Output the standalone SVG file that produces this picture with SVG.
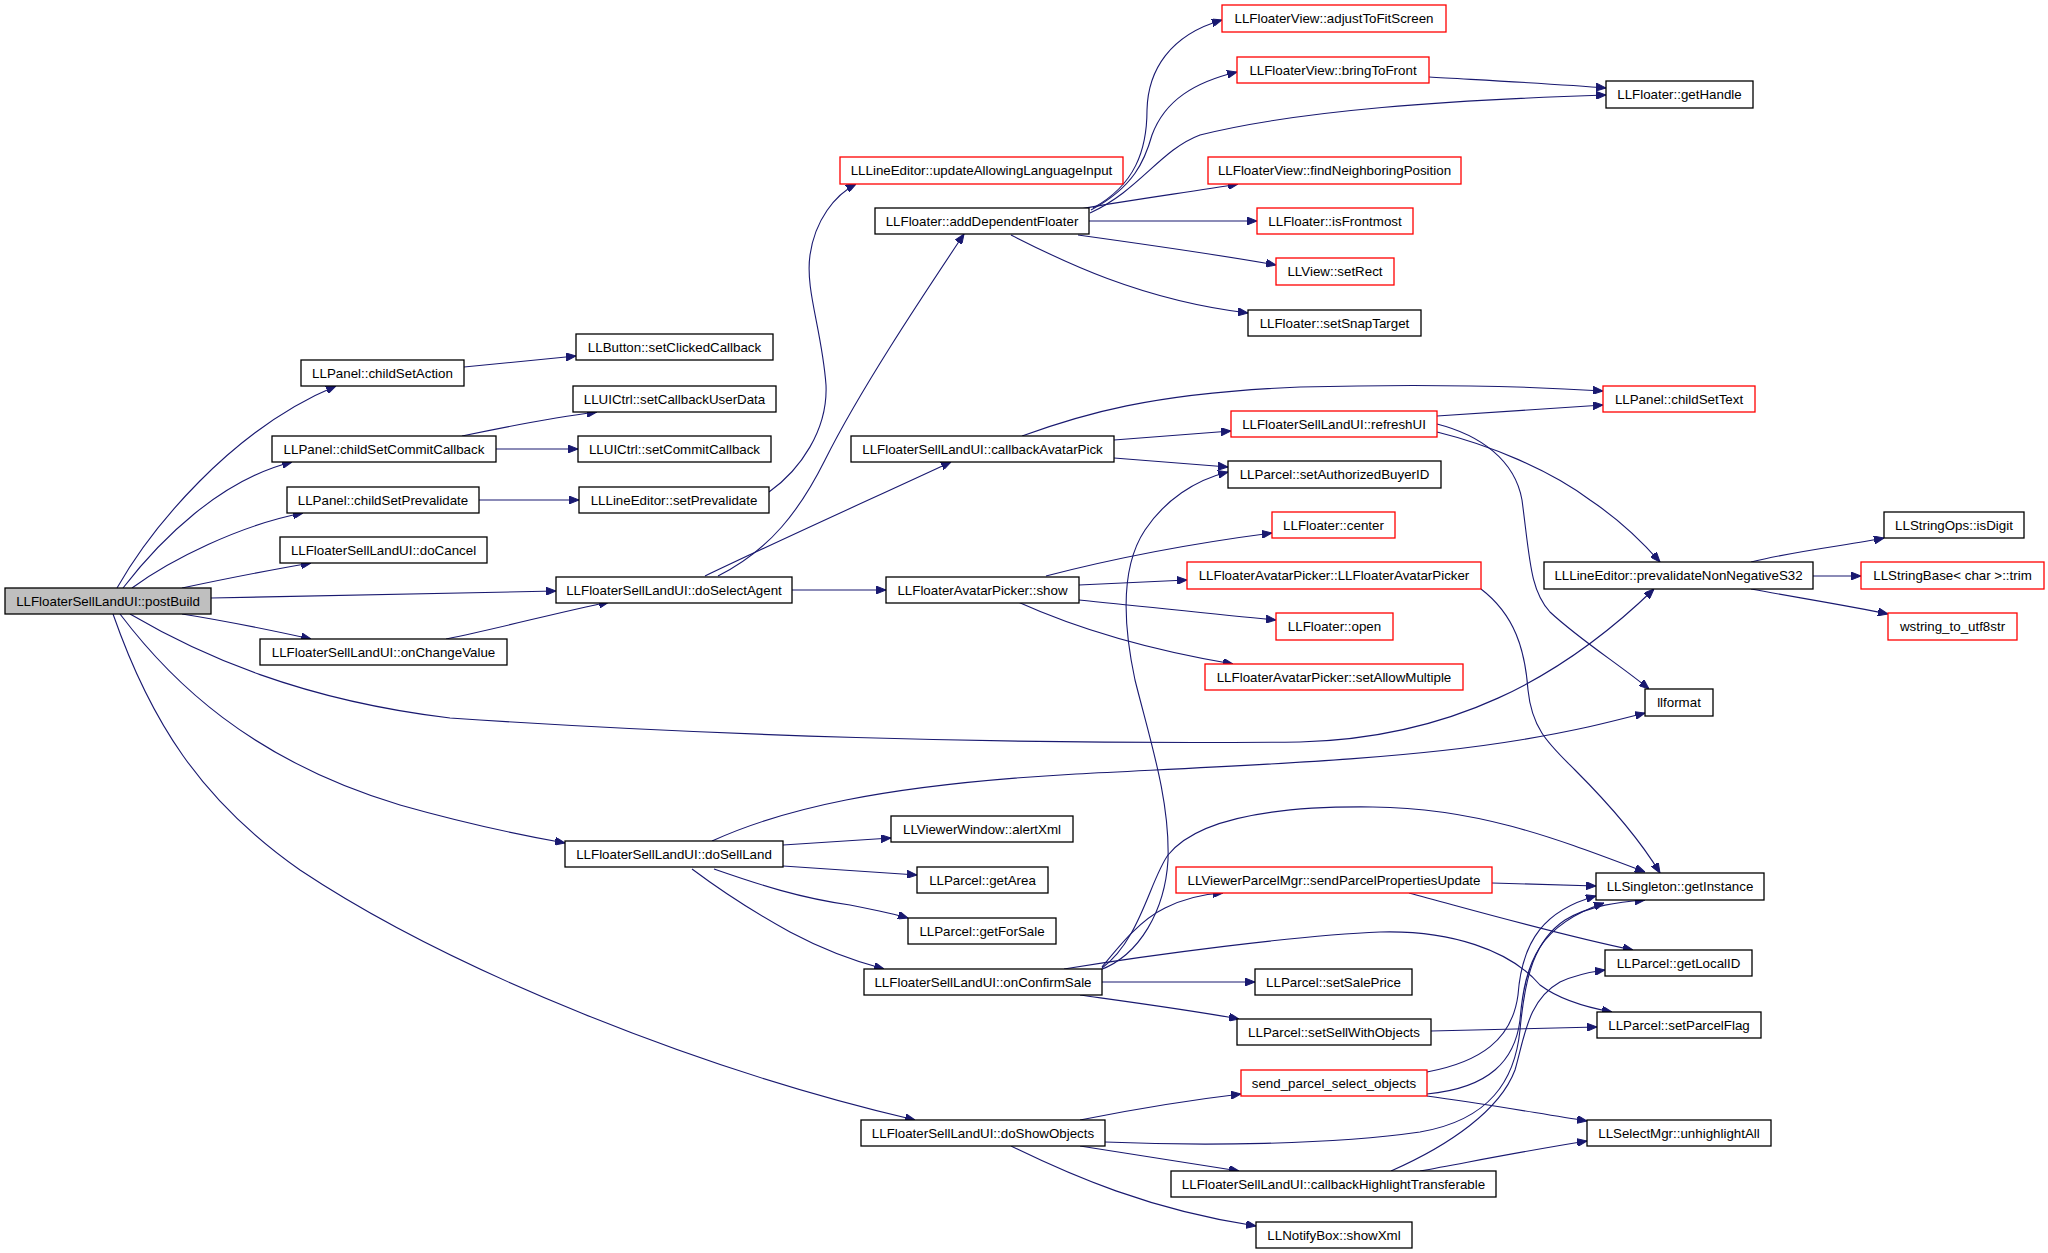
<svg xmlns="http://www.w3.org/2000/svg" width="2048" height="1253" viewBox="0 0 2048 1253">
<defs>
<marker id="a" markerWidth="10" markerHeight="8" refX="10" refY="4" orient="auto" markerUnits="userSpaceOnUse">
<path d="M0,0 L10,4 L0,8 z" fill="#191970" stroke="#191970" stroke-width="1"/>
</marker>
</defs>
<style>
rect{fill:#ffffff;stroke:#000000;stroke-width:1.3}
.r rect{stroke:#ff0000}
.g rect{fill:#bfbfbf}
text{font-family:"Liberation Sans",Arial,Helvetica,sans-serif;font-size:13.33px;text-anchor:middle;fill:#000000}
#edges path{fill:none;stroke:#191970;stroke-width:1.1;marker-end:url(#a)}
</style>
<rect x="0" y="0" width="2048" height="1253" style="fill:#ffffff;stroke:none"/>
<g id="edges">
<path d="M117,588 C150,530 230,430 336,386"/>
<path d="M123,588 C160,540 220,480 292,462"/>
<path d="M132,588 C170,560 240,525 303,513"/>
<path d="M182,588 C220,580 270,570 311,563"/>
<path d="M211,598 L556,591"/>
<path d="M182,614 C220,620 270,630 311,639"/>
<path d="M130,614 C200,655 300,700 450,718 C700,735 1000,745 1300,742 C1450,738 1560,680 1654,589"/>
<path d="M120,614 C170,680 250,760 400,805 C460,822 520,835 565,843"/>
<path d="M113,614 C150,720 200,800 300,870 C450,970 700,1070 915,1120"/>
<path d="M464,367 L576,356"/>
<path d="M462,436 C500,428 550,418 597,412"/>
<path d="M496,449 L578,449"/>
<path d="M479,500 L579,500"/>
<path d="M769,492 C800,470 828,430 826,385 C822,330 805,290 810,255 C815,220 835,195 856,184"/>
<path d="M718,576 C770,550 800,510 825,460 C860,390 920,300 964,234"/>
<path d="M705,576 C780,540 880,495 951,462"/>
<path d="M792,590 L886,590"/>
<path d="M446,639 C500,628 560,612 609,602"/>
<path d="M1093,208 C1135,185 1147,150 1147,110 C1148,70 1170,35 1222,20"/>
<path d="M1091,210 C1134,187 1145,160 1152,135 C1165,100 1195,82 1237,72"/>
<path d="M1090,213 C1140,190 1160,150 1200,135 C1300,110 1450,100 1606,95"/>
<path d="M1080,209 C1130,200 1190,192 1238,184"/>
<path d="M1089,221 L1257,221"/>
<path d="M1078,235 C1150,245 1220,255 1276,265"/>
<path d="M1011,235 C1060,260 1140,300 1248,313"/>
<path d="M1429,77 C1480,80 1560,84 1606,88"/>
<path d="M1022,436 C1080,415 1150,393 1300,387 C1450,383 1540,387 1603,391"/>
<path d="M1114,440 L1231,431"/>
<path d="M1114,458 L1228,467"/>
<path d="M1046,576 C1100,562 1180,545 1272,533"/>
<path d="M1079,585 L1187,580"/>
<path d="M1079,600 C1150,607 1220,615 1276,620"/>
<path d="M1018,602 C1080,630 1150,650 1233,664"/>
<path d="M1100,970 C1140,955 1165,910 1168,860 C1170,800 1150,740 1135,680 C1120,610 1125,560 1145,530 C1165,500 1195,480 1228,472"/>
<path d="M1102,968 C1140,940 1150,880 1168,855 C1200,815 1290,806 1373,807 C1480,808 1560,840 1645,872"/>
<path d="M1102,967 C1120,945 1140,920 1165,908 C1185,898 1205,894 1223,893"/>
<path d="M1064,969 C1150,955 1300,935 1380,932 C1450,930 1510,950 1540,985 C1560,1000 1590,1008 1612,1012"/>
<path d="M1102,982 L1255,982"/>
<path d="M1080,995 C1130,1002 1190,1010 1239,1019"/>
<path d="M1437,416 L1603,405"/>
<path d="M1437,424 C1480,435 1515,460 1522,500 C1530,560 1530,590 1550,612 C1580,640 1620,665 1649,689"/>
<path d="M1437,432 C1490,445 1550,470 1590,500 C1620,520 1645,545 1660,562"/>
<path d="M1481,589 C1515,615 1525,650 1528,690 C1532,730 1550,745 1575,770 C1610,805 1640,840 1660,873"/>
<path d="M1751,562 C1800,550 1850,545 1884,538"/>
<path d="M1813,576 L1861,576"/>
<path d="M1751,589 C1800,598 1850,606 1888,614"/>
<path d="M783,845 L891,838"/>
<path d="M783,866 L917,875"/>
<path d="M714,869 C760,885 800,898 850,905 C875,910 895,914 908,918"/>
<path d="M692,869 C720,890 750,910 790,932 C820,948 850,960 884,969"/>
<path d="M712,841 C780,810 880,785 1076,774 C1250,765 1400,760 1520,740 C1580,730 1610,722 1645,713"/>
<path d="M1492,883 L1596,886"/>
<path d="M1409,893 C1480,912 1560,935 1633,950"/>
<path d="M1431,1031 L1597,1027"/>
<path d="M1080,1120 C1140,1108 1190,1100 1241,1094"/>
<path d="M1105,1142 C1200,1146 1330,1145 1420,1132 C1490,1120 1515,1080 1520,1030 C1525,975 1535,940 1565,920 C1590,905 1620,902 1645,900"/>
<path d="M1080,1146 C1140,1155 1190,1163 1239,1171"/>
<path d="M1011,1146 C1070,1175 1150,1210 1256,1226"/>
<path d="M1427,1072 C1480,1062 1512,1040 1518,995 C1522,940 1545,910 1596,896"/>
<path d="M1427,1094 C1490,1088 1515,1060 1520,1020 C1525,960 1540,925 1604,903"/>
<path d="M1391,1171 C1450,1145 1500,1110 1515,1070 C1525,1035 1528,1000 1560,982 C1575,975 1590,972 1605,970"/>
<path d="M1427,1096 C1480,1103 1530,1112 1587,1121"/>
<path d="M1420,1171 C1480,1160 1530,1150 1587,1141"/>
</g>
<g id="n1" class="g"><rect x="5" y="588" width="206" height="26"/><text x="108" y="605.5">LLFloaterSellLandUI::postBuild</text></g>
<g id="n2"><rect x="301" y="360" width="163" height="26"/><text x="382.5" y="377.5">LLPanel::childSetAction</text></g>
<g id="n3"><rect x="272" y="436" width="224" height="26"/><text x="384" y="453.5">LLPanel::childSetCommitCallback</text></g>
<g id="n4"><rect x="287" y="487" width="192" height="26"/><text x="383" y="504.5">LLPanel::childSetPrevalidate</text></g>
<g id="n5"><rect x="280" y="537" width="207" height="26"/><text x="383.5" y="554.5">LLFloaterSellLandUI::doCancel</text></g>
<g id="n6"><rect x="556" y="577" width="236" height="26"/><text x="674" y="594.5">LLFloaterSellLandUI::doSelectAgent</text></g>
<g id="n7"><rect x="260" y="639" width="247" height="26"/><text x="383.5" y="656.5">LLFloaterSellLandUI::onChangeValue</text></g>
<g id="n8"><rect x="565" y="841" width="218" height="26"/><text x="674" y="858.5">LLFloaterSellLandUI::doSellLand</text></g>
<g id="n9"><rect x="861" y="1120" width="244" height="26"/><text x="983" y="1137.5">LLFloaterSellLandUI::doShowObjects</text></g>
<g id="n10"><rect x="576" y="334" width="197" height="26"/><text x="674.5" y="351.5">LLButton::setClickedCallback</text></g>
<g id="n11"><rect x="573" y="386" width="203" height="26"/><text x="674.5" y="403.5">LLUICtrl::setCallbackUserData</text></g>
<g id="n12"><rect x="578" y="436" width="193" height="26"/><text x="674.5" y="453.5">LLUICtrl::setCommitCallback</text></g>
<g id="n13"><rect x="579" y="487" width="190" height="26"/><text x="674" y="504.5">LLLineEditor::setPrevalidate</text></g>
<g id="n14" class="r"><rect x="840" y="157" width="283" height="27"/><text x="981.5" y="175">LLLineEditor::updateAllowingLanguageInput</text></g>
<g id="n15"><rect x="875" y="208" width="214" height="26"/><text x="982" y="225.5">LLFloater::addDependentFloater</text></g>
<g id="n16"><rect x="851" y="436" width="263" height="26"/><text x="982.5" y="453.5">LLFloaterSellLandUI::callbackAvatarPick</text></g>
<g id="n17"><rect x="886" y="577" width="193" height="26"/><text x="982.5" y="594.5">LLFloaterAvatarPicker::show</text></g>
<g id="n18"><rect x="891" y="816" width="182" height="26"/><text x="982" y="833.5">LLViewerWindow::alertXml</text></g>
<g id="n19"><rect x="917" y="867" width="131" height="26"/><text x="982.5" y="884.5">LLParcel::getArea</text></g>
<g id="n20"><rect x="908" y="918" width="148" height="26"/><text x="982" y="935.5">LLParcel::getForSale</text></g>
<g id="n21"><rect x="864" y="969" width="238" height="26"/><text x="983" y="986.5">LLFloaterSellLandUI::onConfirmSale</text></g>
<g id="n22" class="r"><rect x="1222" y="5" width="224" height="27"/><text x="1334" y="23">LLFloaterView::adjustToFitScreen</text></g>
<g id="n23" class="r"><rect x="1237" y="57" width="192" height="26"/><text x="1333" y="74.5">LLFloaterView::bringToFront</text></g>
<g id="n24" class="r"><rect x="1208" y="157" width="253" height="27"/><text x="1334.5" y="175">LLFloaterView::findNeighboringPosition</text></g>
<g id="n25" class="r"><rect x="1257" y="208" width="156" height="26"/><text x="1335" y="225.5">LLFloater::isFrontmost</text></g>
<g id="n26" class="r"><rect x="1276" y="258" width="118" height="27"/><text x="1335" y="276">LLView::setRect</text></g>
<g id="n27"><rect x="1248" y="310" width="173" height="26"/><text x="1334.5" y="327.5">LLFloater::setSnapTarget</text></g>
<g id="n28" class="r"><rect x="1231" y="411" width="206" height="26"/><text x="1334" y="428.5">LLFloaterSellLandUI::refreshUI</text></g>
<g id="n29"><rect x="1228" y="461" width="213" height="27"/><text x="1334.5" y="479">LLParcel::setAuthorizedBuyerID</text></g>
<g id="n30" class="r"><rect x="1272" y="512" width="123" height="26"/><text x="1333.5" y="529.5">LLFloater::center</text></g>
<g id="n31" class="r"><rect x="1187" y="562" width="294" height="27"/><text x="1334" y="580">LLFloaterAvatarPicker::LLFloaterAvatarPicker</text></g>
<g id="n32" class="r"><rect x="1276" y="613" width="117" height="27"/><text x="1334.5" y="631">LLFloater::open</text></g>
<g id="n33" class="r"><rect x="1205" y="664" width="258" height="26"/><text x="1334" y="681.5">LLFloaterAvatarPicker::setAllowMultiple</text></g>
<g id="n34" class="r"><rect x="1176" y="867" width="316" height="26"/><text x="1334" y="884.5">LLViewerParcelMgr::sendParcelPropertiesUpdate</text></g>
<g id="n35"><rect x="1255" y="969" width="157" height="26"/><text x="1333.5" y="986.5">LLParcel::setSalePrice</text></g>
<g id="n36"><rect x="1237" y="1019" width="194" height="26"/><text x="1334" y="1036.5">LLParcel::setSellWithObjects</text></g>
<g id="n37" class="r"><rect x="1241" y="1070" width="186" height="26"/><text x="1334" y="1087.5">send_parcel_select_objects</text></g>
<g id="n38"><rect x="1171" y="1171" width="325" height="26"/><text x="1333.5" y="1188.5">LLFloaterSellLandUI::callbackHighlightTransferable</text></g>
<g id="n39"><rect x="1256" y="1222" width="156" height="26"/><text x="1334" y="1239.5">LLNotifyBox::showXml</text></g>
<g id="n40"><rect x="1606" y="81" width="147" height="27"/><text x="1679.5" y="99">LLFloater::getHandle</text></g>
<g id="n41" class="r"><rect x="1603" y="386" width="152" height="26"/><text x="1679" y="403.5">LLPanel::childSetText</text></g>
<g id="n42"><rect x="1544" y="562" width="269" height="27"/><text x="1678.5" y="580">LLLineEditor::prevalidateNonNegativeS32</text></g>
<g id="n43"><rect x="1645" y="689" width="68" height="27"/><text x="1679" y="707">llformat</text></g>
<g id="n44"><rect x="1596" y="873" width="168" height="27"/><text x="1680" y="891">LLSingleton::getInstance</text></g>
<g id="n45"><rect x="1605" y="950" width="147" height="26"/><text x="1678.5" y="967.5">LLParcel::getLocalID</text></g>
<g id="n46"><rect x="1597" y="1012" width="164" height="26"/><text x="1679" y="1029.5">LLParcel::setParcelFlag</text></g>
<g id="n47"><rect x="1587" y="1120" width="184" height="26"/><text x="1679" y="1137.5">LLSelectMgr::unhighlightAll</text></g>
<g id="n48"><rect x="1884" y="512" width="140" height="26"/><text x="1954" y="529.5">LLStringOps::isDigit</text></g>
<g id="n49" class="r"><rect x="1861" y="562" width="183" height="27"/><text x="1952.5" y="580">LLStringBase&lt; char &gt;::trim</text></g>
<g id="n50" class="r"><rect x="1888" y="613" width="129" height="27"/><text x="1952.5" y="631">wstring_to_utf8str</text></g>
</svg>
